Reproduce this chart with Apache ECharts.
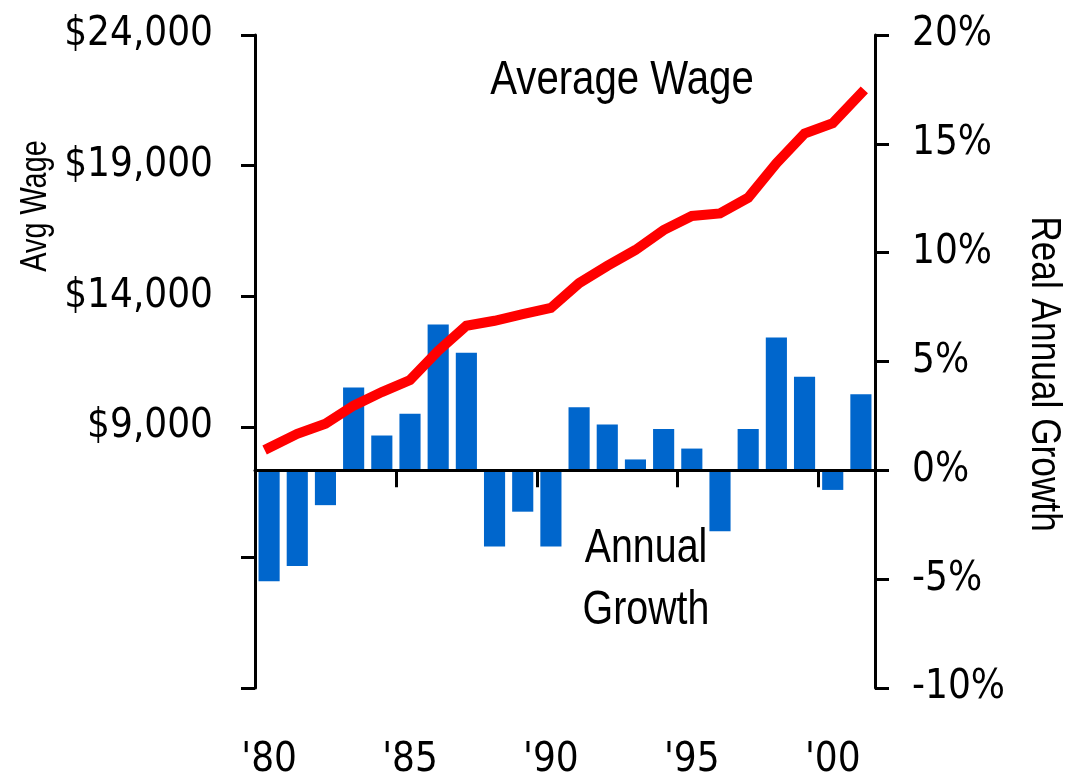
<!DOCTYPE html>
<html>
<head>
<meta charset="utf-8">
<script src="https://cdn.jsdelivr.net/npm/echarts@6/dist/echarts.min.js"></script>
<style>
  html, body { margin: 0; background: #fff; }
  #chart { width: 1076px; height: 781px; }
</style>
</head>
<body>
<div id="chart"></div>
<script>
// no narrow face installed: axis labels use the condensed DejaVu,
// free texts use Liberation Sans squeezed to Arial Narrow widths
const AXIS_FONT = '"DejaVu Sans Condensed", "Liberation Sans Narrow", sans-serif'
const TEXT_FONT = '"Liberation Sans", Arial, sans-serif'
const NARROW = 0.82

const years = ["'80", "'81", "'82", "'83", "'84", "'85", "'86", "'87", "'88", "'89", "'90",
  "'91", "'92", "'93", "'94", "'95", "'96", "'97", "'98", "'99", "'00", "'01"]

// average wage, dollars
const avgWage = [8200, 8730, 9120, 9810, 10330, 10790, 11910, 12870, 13060, 13310, 13550,
  14500, 15160, 15770, 16530, 17070, 17170, 17770, 19090, 20230, 20620, 21760]

// real annual growth, percent
const annualGrowth = [-5.1, -4.4, -1.6, 3.8, 1.6, 2.6, 6.7, 5.4, -3.5, -1.9, -3.5,
  2.9, 2.1, 0.5, 1.9, 1.0, -2.8, 1.9, 6.1, 4.3, -0.9, 3.5]

const wageTicks = [-1000, 4000, 9000, 14000, 19000, 24000]
const wageLabels = [9000, 14000, 19000, 24000]

const chart = echarts.init(document.getElementById('chart'))

const axisLine = { lineStyle: { color: '#000', width: 3 } }
const axisTick = { lineStyle: { color: '#000', width: 3 }, length: 14 }
const labelStyle = { color: '#000', fontFamily: AXIS_FONT, fontSize: 40 }

const text = (str, size, opts) => ({
  type: 'text',
  scaleX: NARROW,
  ...opts,
  style: {
    text: str,
    font: size + 'px ' + TEXT_FONT,
    fill: '#000',
    align: 'center',
    verticalAlign: 'middle',
    ...(opts.style || {})
  }
})

chart.setOption({
  animation: false,
  backgroundColor: '#fff',
  grid: { left: 255, right: 201, top: 35, bottom: 92 },
  xAxis: [
    {
      type: 'category',
      data: years,
      boundaryGap: true,
      z: 3,
      axisLine: { ...axisLine, onZero: true, onZeroAxisIndex: 1 },
      axisTick: { ...axisTick, show: true, length: 17, interval: 4 },
      axisLabel: { show: false },
      splitLine: { show: false }
    },
    {
      type: 'category',
      data: years,
      position: 'bottom',
      boundaryGap: true,
      axisLine: { show: false },
      axisTick: { show: false },
      axisLabel: { ...labelStyle, interval: 4, margin: 53 },
      splitLine: { show: false }
    }
  ],
  yAxis: [
    {
      type: 'value',
      position: 'left',
      min: -1000,
      max: 24000,
      axisLine: { ...axisLine, show: true },
      axisTick: { ...axisTick, show: true, customValues: wageTicks },
      axisLabel: {
        ...labelStyle,
        customValues: wageLabels,
        margin: 42,
        formatter: v => '$' + v.toLocaleString('en-US')
      },
      splitLine: { show: false }
    },
    {
      type: 'value',
      position: 'right',
      min: -10,
      max: 20,
      interval: 5,
      axisLine: { ...axisLine, show: true },
      axisTick: { ...axisTick, show: true },
      axisLabel: { ...labelStyle, margin: 37, formatter: v => v + '%' },
      splitLine: { show: false }
    }
  ],
  series: [
    {
      name: 'Annual Growth',
      type: 'bar',
      xAxisIndex: 0,
      yAxisIndex: 1,
      data: annualGrowth,
      barCategoryGap: '25%',
      itemStyle: { color: '#0066cc' }
    },
    {
      name: 'Average Wage',
      type: 'line',
      xAxisIndex: 0,
      yAxisIndex: 0,
      data: avgWage,
      showSymbol: false,
      lineStyle: { color: '#ff0000', width: 10, cap: 'square', join: 'miter' },
      z: 5
    }
  ],
  graphic: [
    text('Average Wage', 49, { x: 622, y: 80 }),
    text('Annual\nGrowth', 48, { x: 646, y: 580, style: { lineHeight: 62 } }),
    text('Avg Wage', 37, { x: 36, y: 206, scaleX: 0.78, rotation: Math.PI / 2 }),
    text('Real Annual Growth', 43, { x: 1044, y: 374, rotation: -Math.PI / 2 })
  ]
})
</script>
</body>
</html>
